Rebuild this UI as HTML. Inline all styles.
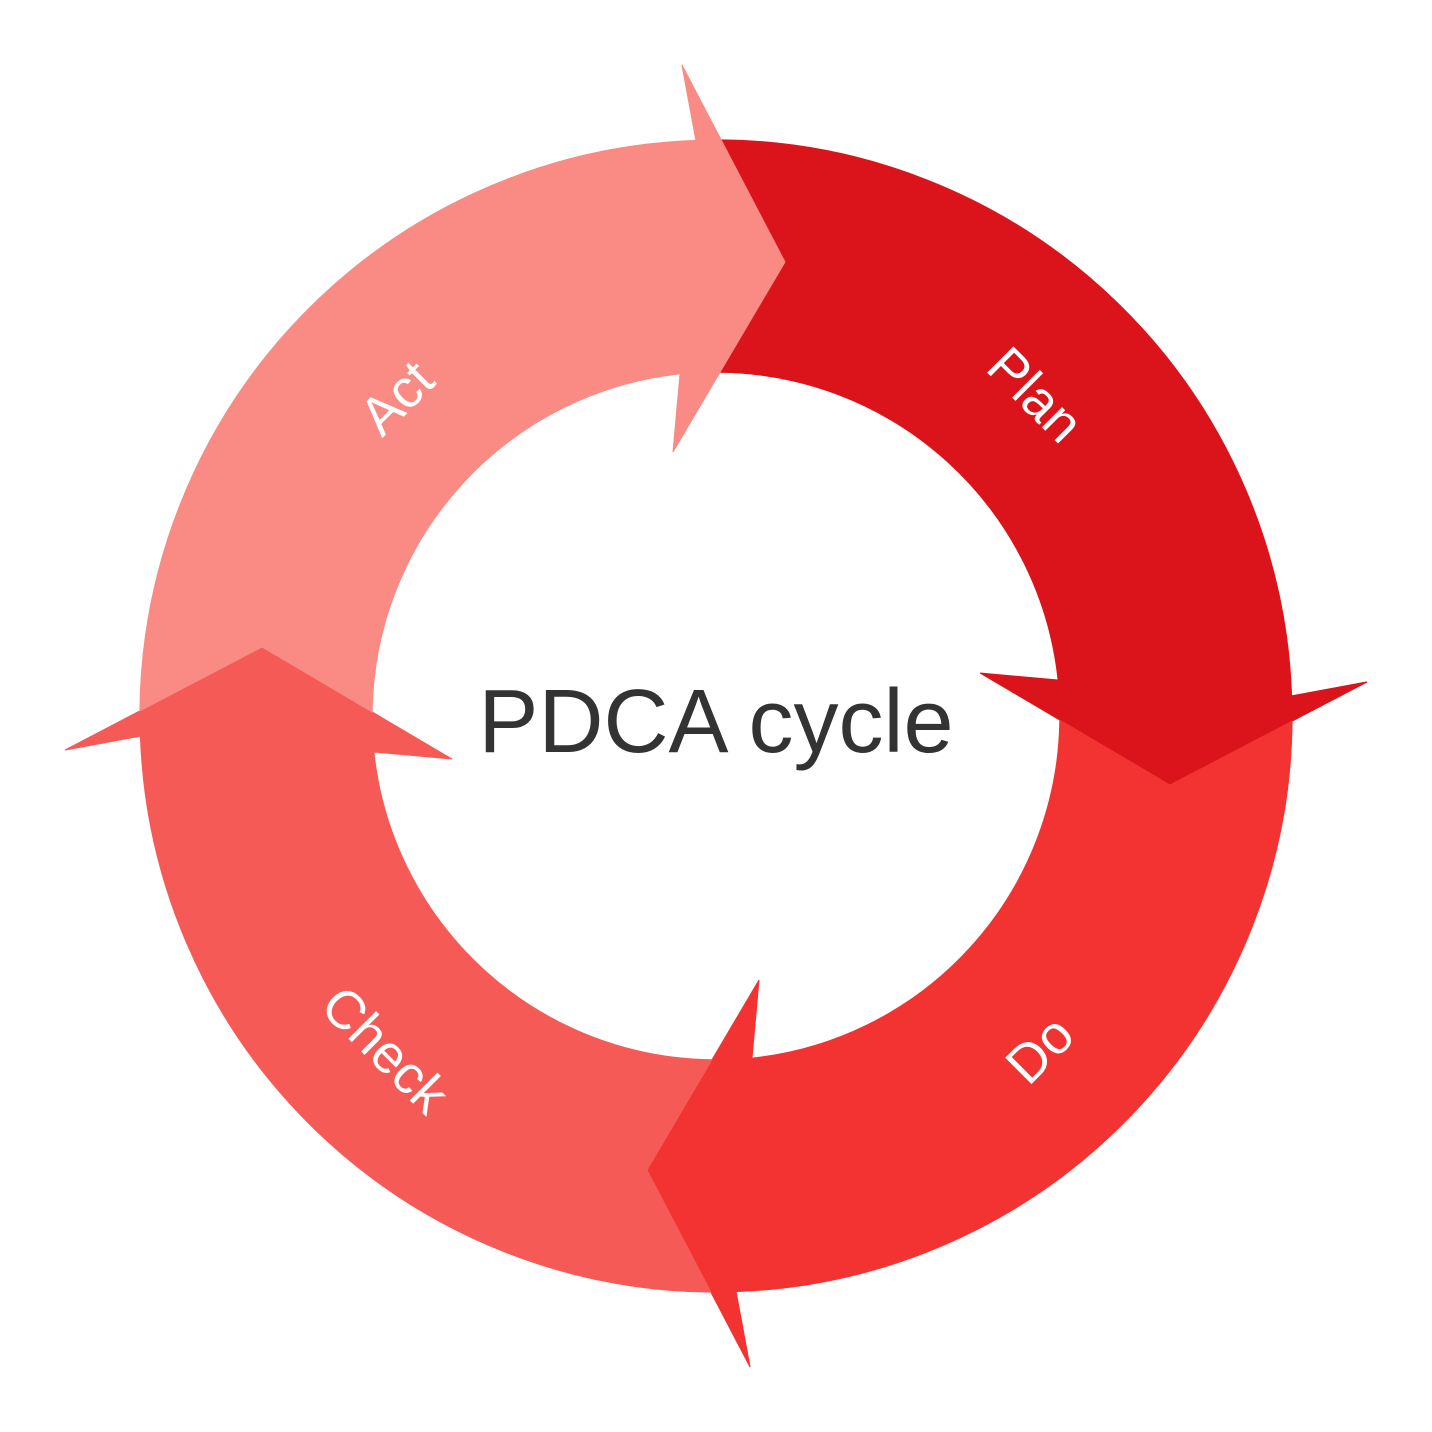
<!DOCTYPE html>
<html><head><meta charset="utf-8"><style>
html,body{margin:0;padding:0;background:#fff;}
svg{display:block;}
</style></head><body>
<svg width="1432" height="1432" viewBox="0 0 1432 1432" xmlns="http://www.w3.org/2000/svg">
<defs>
<path id="arr" d="M721.1,139.9 A576,576 0 0 1 1291.6,695.9 L1367.1,681.9 L1170,785 L980,673 L1058.1,680 A344,344 0 0 0 720,372.2 L785,262 Z"/>
</defs>
<use href="#arr" fill="#DA141A" stroke="#DA141A" stroke-width="1"/>
<use href="#arr" fill="#F33232" stroke="#F33232" stroke-width="1" transform="rotate(90 716 716)"/>
<use href="#arr" fill="#F55A56" stroke="#F55A56" stroke-width="1" transform="rotate(180 716 716)"/>
<use href="#arr" fill="#F98A84" stroke="#F98A84" stroke-width="1" transform="rotate(270 716 716)"/>
<g font-family="Liberation Sans, sans-serif" font-size="54" fill="#fff" text-anchor="middle" dominant-baseline="central">
<text transform="translate(1035,395) rotate(45)">Plan</text>
<text transform="translate(1040,1050) rotate(-45)">Do</text>
<text transform="translate(385,1050) rotate(45)">Check</text>
<text transform="translate(397,398) rotate(-45)">Act</text>
</g>
<text x="716" y="722" font-family="Liberation Sans, sans-serif" font-size="90" fill="#333" text-anchor="middle" dominant-baseline="central">PDCA cycle</text>
</svg>
</body></html>
